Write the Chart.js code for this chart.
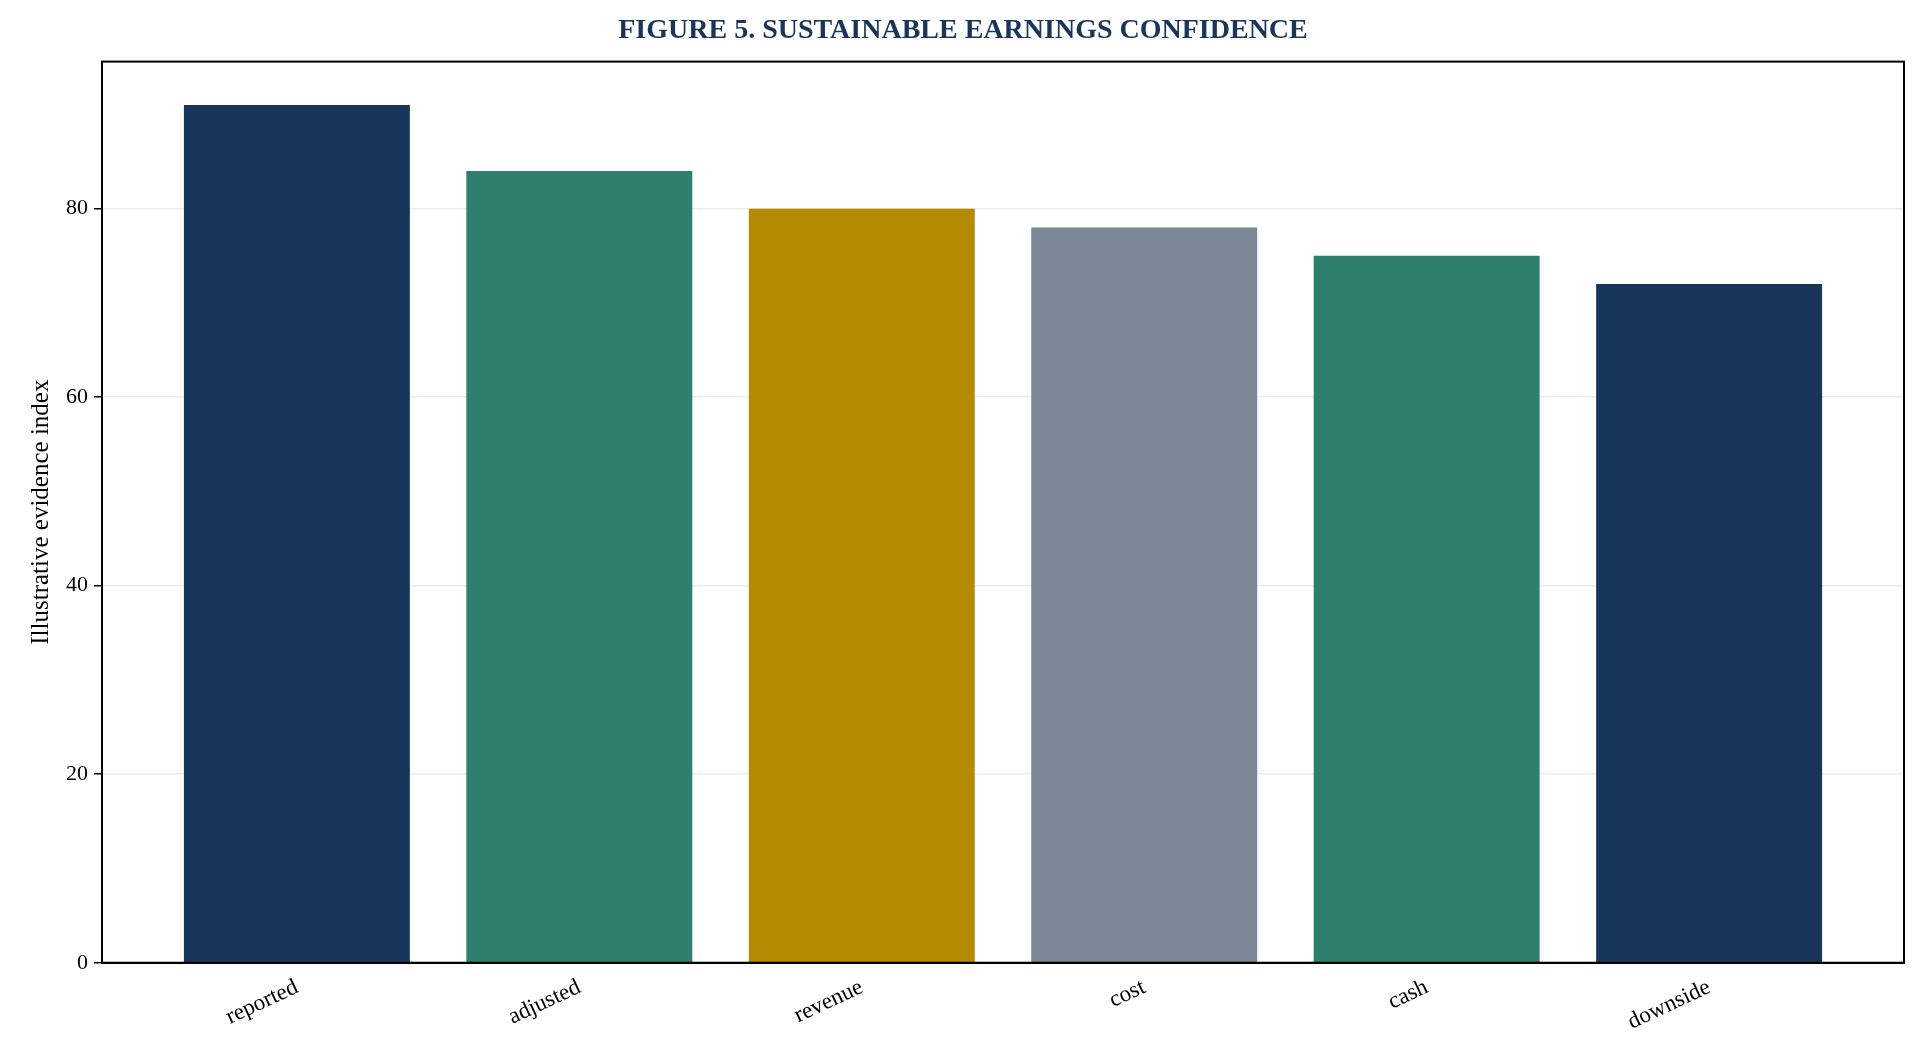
<!DOCTYPE html>
<html><head><meta charset="utf-8">
<script src="https://cdn.jsdelivr.net/npm/chart.js@4"></script>
<style>html,body{margin:0;padding:0;background:#fff}#w{width:1924px;height:1051px}</style>
</head><body><div id="w"><canvas id="c"></canvas></div>
<script>
const categories = ["reported","adjusted","revenue","cost","cash","downside"];
const values = [91,84,80,78,75,72];
const barColors = ["#18365c","#2f7f6f","#b38a00","#7a8796","#2f7f6f","#18365c"];
const yTicks = [0,20,40,60,80];

const frame = {id:'frame',afterDraw(ch){const a=ch.chartArea,c=ch.ctx;c.save();c.strokeStyle='#000';c.lineWidth=2;c.strokeRect(a.left,a.top,a.right-a.left,a.bottom-a.top);c.restore();}};
new Chart(document.getElementById('c'),{
type:'bar',
data:{datasets:[{data:values.map((v,i)=>({x:i,y:v})),backgroundColor:barColors,categoryPercentage:1,barPercentage:0.8}]},
plugins:[frame],
options:{responsive:true,maintainAspectRatio:false,animation:false,
layout:{padding:{top:8,right:20,left:22,bottom:12}},
plugins:{legend:{display:false},tooltip:{enabled:false},
title:{display:true,text:"FIGURE 5. SUSTAINABLE EARNINGS CONFIDENCE",color:"#18365c",font:{family:"Liberation Serif",size:28,weight:"bold"},padding:{top:6,bottom:14}}},
scales:{
x:{type:'linear',min:-0.69,max:5.69,offset:false,afterBuildTicks(ax){ax.ticks=categories.map((_,i)=>({value:i}));},
grid:{display:false,drawOnChartArea:false,drawTicks:true,tickLength:8,tickColor:'#000'},border:{color:'#000',width:2},
ticks:{color:'#000',font:{family:"Liberation Serif",size:23},maxRotation:25,minRotation:25,callback:v=>categories[v]}},
y:{min:0,max:95.6,afterBuildTicks(ax){ax.ticks=yTicks.map(v=>({value:v}));},
grid:{color:'rgba(0,0,0,0.08)',lineWidth:1.5,tickColor:'#000',tickLength:8},border:{color:'#000',width:2},
ticks:{color:'#000',font:{family:"Liberation Serif",size:22},padding:6},
title:{display:true,text:"Illustrative evidence index",color:'#000',font:{family:"Liberation Serif",size:25}}}
}}});
</script></body></html>
